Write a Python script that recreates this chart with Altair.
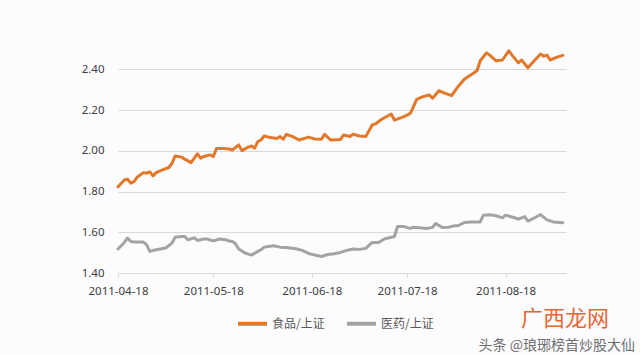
import altair as alt
import pandas as pd

series_names = ["食品/上证", "医药/上证"]
series_colors = ["#e2792a", "#a3a3a3"]

food_dates = [
    "2011-04-18", "2011-04-20", "2011-04-21", "2011-04-22", "2011-04-23", "2011-04-24",
    "2011-04-26", "2011-04-27", "2011-04-28", "2011-04-29", "2011-04-30", "2011-05-02",
    "2011-05-04", "2011-05-05", "2011-05-06", "2011-05-08", "2011-05-09", "2011-05-11",
    "2011-05-12", "2011-05-13", "2011-05-14", "2011-05-15", "2011-05-17", "2011-05-18",
    "2011-05-19", "2011-05-21", "2011-05-23", "2011-05-24", "2011-05-26", "2011-05-27",
    "2011-05-29", "2011-05-30", "2011-05-31", "2011-06-01", "2011-06-02", "2011-06-03",
    "2011-06-05", "2011-06-07", "2011-06-08", "2011-06-09", "2011-06-10", "2011-06-12",
    "2011-06-14", "2011-06-17", "2011-06-19", "2011-06-21", "2011-06-22", "2011-06-24",
    "2011-06-27", "2011-06-28", "2011-06-30", "2011-07-01", "2011-07-03", "2011-07-05",
    "2011-07-07", "2011-07-08", "2011-07-10", "2011-07-13", "2011-07-14", "2011-07-17",
    "2011-07-19", "2011-07-20", "2011-07-21", "2011-07-23", "2011-07-25", "2011-07-26",
    "2011-07-28", "2011-07-30", "2011-08-01", "2011-08-03", "2011-08-05", "2011-08-07",
    "2011-08-09", "2011-08-10", "2011-08-12", "2011-08-13", "2011-08-15", "2011-08-17",
    "2011-08-19", "2011-08-20", "2011-08-22", "2011-08-23", "2011-08-25", "2011-08-27",
    "2011-08-29", "2011-08-30", "2011-08-31", "2011-09-01", "2011-09-03", "2011-09-05",
]
food_values = [
    1.824, 1.857, 1.861, 1.841, 1.849, 1.870,
    1.893, 1.890, 1.897, 1.877, 1.893, 1.906,
    1.918, 1.939, 1.975, 1.969, 1.959, 1.942,
    1.964, 1.985, 1.964, 1.972, 1.980, 1.972,
    2.011, 2.011, 2.009, 2.004, 2.029, 2.001,
    2.018, 2.024, 2.013, 2.045, 2.053, 2.073,
    2.065, 2.060, 2.070, 2.057, 2.081, 2.070,
    2.053, 2.067, 2.058, 2.057, 2.081, 2.053,
    2.055, 2.078, 2.070, 2.081, 2.073, 2.070,
    2.127, 2.132, 2.155, 2.181, 2.151, 2.168,
    2.184, 2.217, 2.253, 2.266, 2.274, 2.258,
    2.295, 2.282, 2.271, 2.315, 2.351, 2.372,
    2.393, 2.442, 2.481, 2.470, 2.442, 2.446,
    2.491, 2.470, 2.432, 2.446, 2.408, 2.442,
    2.475, 2.465, 2.470, 2.446, 2.459, 2.469,
]

med_dates = [
    "2011-04-18", "2011-04-20", "2011-04-21", "2011-04-22", "2011-04-23", "2011-04-26",
    "2011-04-27", "2011-04-28", "2011-04-30", "2011-05-03", "2011-05-05", "2011-05-06",
    "2011-05-08", "2011-05-09", "2011-05-10", "2011-05-12", "2011-05-13", "2011-05-15",
    "2011-05-16", "2011-05-18", "2011-05-20", "2011-05-22", "2011-05-23", "2011-05-24",
    "2011-05-25", "2011-05-26", "2011-05-28", "2011-05-30", "2011-06-01", "2011-06-02",
    "2011-06-03", "2011-06-06", "2011-06-08", "2011-06-10", "2011-06-13", "2011-06-15",
    "2011-06-17", "2011-06-19", "2011-06-21", "2011-06-23", "2011-06-25", "2011-06-27",
    "2011-06-29", "2011-07-01", "2011-07-03", "2011-07-05", "2011-07-07", "2011-07-09",
    "2011-07-11", "2011-07-14", "2011-07-15", "2011-07-17", "2011-07-19", "2011-07-20",
    "2011-07-22", "2011-07-24", "2011-07-26", "2011-07-27", "2011-07-29", "2011-07-31",
    "2011-08-02", "2011-08-03", "2011-08-05", "2011-08-07", "2011-08-10", "2011-08-11",
    "2011-08-13", "2011-08-15", "2011-08-17", "2011-08-18", "2011-08-20", "2011-08-22",
    "2011-08-24", "2011-08-25", "2011-08-27", "2011-08-29", "2011-08-31", "2011-09-02",
    "2011-09-05",
]
med_values = [
    1.518, 1.550, 1.572, 1.555, 1.552, 1.552,
    1.539, 1.506, 1.514, 1.523, 1.547, 1.576,
    1.579, 1.579, 1.563, 1.573, 1.560, 1.567,
    1.567, 1.558, 1.567, 1.563, 1.557, 1.555,
    1.544, 1.518, 1.498, 1.488, 1.506, 1.514,
    1.527, 1.534, 1.527, 1.525, 1.519, 1.511,
    1.496, 1.488, 1.481, 1.491, 1.495, 1.501,
    1.511, 1.518, 1.516, 1.521, 1.550, 1.550,
    1.568, 1.579, 1.628, 1.628, 1.619, 1.625,
    1.622, 1.619, 1.624, 1.643, 1.624, 1.625,
    1.632, 1.632, 1.648, 1.651, 1.651, 1.684,
    1.686, 1.681, 1.671, 1.684, 1.675, 1.665,
    1.677, 1.655, 1.670, 1.687, 1.661, 1.651,
    1.647,
]

y_ticks = [1.4, 1.6, 1.8, 2.0, 2.2, 2.4]
x_tick_dates = [(2011, 4, 18), (2011, 5, 18), (2011, 6, 18), (2011, 7, 18), (2011, 8, 18)]

df = pd.concat([
    pd.DataFrame({"date": food_dates, "value": food_values, "series": series_names[0]}),
    pd.DataFrame({"date": med_dates, "value": med_values, "series": series_names[1]}),
], ignore_index=True)

num_font = "Noto Sans"
cjk_font = "Noto Sans CJK SC"

x_enc = alt.X(
    "date:T",
    scale=alt.Scale(type="utc",
                    domain=[alt.DateTime(year=2011, month=4, date=18, utc=True),
                            alt.DateTime(year=2011, month=9, date=6, utc=True)]),
    axis=alt.Axis(
        title=None,
        values=[alt.DateTime(year=y, month=m, date=d, utc=True) for (y, m, d) in x_tick_dates],
        labelExpr="utcFormat(datum.value, '%Y-%m-%d')",
        grid=False,
        domainColor="#d9d9d9",
        tickColor="#d9d9d9",
        tickSize=4,
        labelPadding=8,
        labelFont=num_font,
        labelFontSize=11.5,
        labelColor="#404040",
        labelFlush=False,
        labelOverlap=False,
    ),
)

y_enc = alt.Y(
    "value:Q",
    scale=alt.Scale(domain=[1.4, 2.5], nice=False, zero=False),
    axis=alt.Axis(
        title=None,
        values=y_ticks,
        format=".2f",
        grid=True,
        gridColor="#d9d9d9",
        domain=False,
        ticks=False,
        labelPadding=14,
        labelFont=num_font,
        labelFontSize=11.5,
        labelColor="#404040",
    ),
)

lines = alt.Chart(df).mark_line(strokeWidth=3, strokeJoin="round", strokeCap="round").encode(
    x=x_enc,
    y=y_enc,
    color=alt.Color(
        "series:N",
        scale=alt.Scale(domain=series_names, range=series_colors),
        sort=series_names,
        legend=alt.Legend(
            title=None,
            orient="none",
            direction="horizontal",
            legendX=118,
            legendY=258,
            symbolType="stroke",
            symbolSize=841,
            symbolStrokeWidth=4,
            labelFont=cjk_font,
            labelFontSize=12,
            labelColor="#595959",
            labelOffset=3,
            columnPadding=14,
            padding=0,
        ),
    ),
)

wm_text = ["头条 @琅琊榜首炒股大仙"]
wm_brand = ["广西龙网"]

wm1 = alt.Chart(pd.DataFrame({"t": wm_text})).mark_text(
    font=cjk_font, fontSize=14, color="#555555", align="right", baseline="middle", opacity=0.85
).encode(text="t:N", x=alt.value(517), y=alt.value(297))

wm2 = alt.Chart(pd.DataFrame({"t": wm_brand})).mark_text(
    font=cjk_font, fontSize=22, color="#e4561e", align="center", baseline="middle", opacity=0.9
).encode(text="t:N", x=alt.value(447), y=alt.value(270))

chart = alt.layer(lines, wm2, wm1).properties(
    width=448,
    height=224,
    background="#fcfcfe",
    padding={"left": 118, "top": 49, "right": 74, "bottom": 82},
    autosize=alt.AutoSizeParams(type="none"),
).configure_view(stroke=None)

chart.save("out.html", embed_options={"renderer": "svg", "actions": False})
